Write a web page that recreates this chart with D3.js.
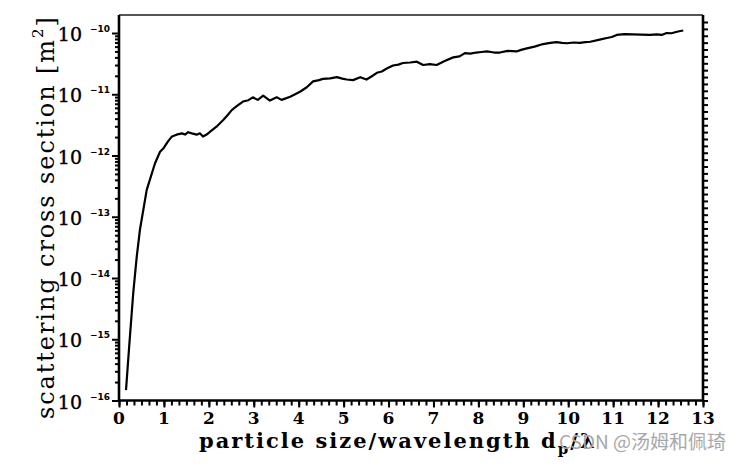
<!DOCTYPE html>
<html><head><meta charset="utf-8">
<script src="https://cdn.jsdelivr.net/npm/d3@7"></script>
<style>body{margin:0;background:#fff}svg{display:block}</style>
</head><body>
<svg id="c" width="744" height="466"></svg>
<script>
// Data
const sizeRatio = [0.156,0.229,0.318,0.394,0.467,0.617,0.80,0.913,0.986,1.09,1.18,1.28,1.40,1.47,1.54,1.62,1.73,1.80,1.87,1.95,2.03,2.17,2.32,2.42,2.51,2.62,2.76,2.88,2.98,3.09,3.21,3.36,3.51,3.62,3.81,4.03,4.18,4.32,4.45,4.54,4.70,4.85,4.97,5.07,5.21,5.37,5.51,5.62,5.74,5.85,5.96,6.10,6.22,6.32,6.48,6.63,6.77,6.92,7.07,7.25,7.44,7.58,7.70,7.82,7.95,8.07,8.19,8.35,8.48,8.65,8.85,8.95,9.08,9.25,9.44,9.60,9.74,9.86,9.97,10.12,10.26,10.38,10.49,10.70,10.86,10.97,11.08,11.25,11.44,11.62,11.82,11.97,12.08,12.19,12.30,12.42,12.50,12.56];
const crossSection = [1.48e-16,8.1e-16,5.8e-15,2.2e-14,6.2e-14,2.75e-13,7.4e-13,1.15e-12,1.3e-12,1.7e-12,2.05e-12,2.19e-12,2.3e-12,2.2e-12,2.4e-12,2.3e-12,2.19e-12,2.3e-12,2.04e-12,2.2e-12,2.45e-12,2.95e-12,3.8e-12,4.6e-12,5.5e-12,6.4e-12,7.6e-12,8.0e-12,8.9e-12,8.1e-12,9.5e-12,7.9e-12,8.9e-12,8.1e-12,9.1e-12,1.1e-11,1.3e-11,1.62e-11,1.7e-11,1.78e-11,1.82e-11,1.9e-11,1.8e-11,1.74e-11,1.7e-11,1.9e-11,1.74e-11,1.95e-11,2.24e-11,2.35e-11,2.63e-11,2.95e-11,3.05e-11,3.24e-11,3.3e-11,3.4e-11,3.0e-11,3.1e-11,3.0e-11,3.5e-11,4.0e-11,4.15e-11,4.7e-11,4.6e-11,4.8e-11,4.9e-11,5.0e-11,4.8e-11,4.8e-11,5.1e-11,5.0e-11,5.3e-11,5.6e-11,6.0e-11,6.6e-11,6.9e-11,7.1e-11,6.9e-11,6.8e-11,7.0e-11,6.9e-11,7.1e-11,7.2e-11,7.8e-11,8.3e-11,8.6e-11,9.3e-11,9.6e-11,9.5e-11,9.4e-11,9.3e-11,9.5e-11,9.3e-11,1.0e-10,9.9e-11,1.05e-10,1.08e-10,1.1e-10];
const xTickLabels = ["0","1","2","3","4","5","6","7","8","9","10","11","12","13"];
const yExponents = [-16,-15,-14,-13,-12,-11,-10];
const xTitle = "particle size/wavelength d";
const yTitle = "scattering cross section [m";
const watermark = "CSDN @汤姆和佩琦";

const svg = d3.select("#c");
const L = 119, R = 703, T = 15, B = 400.5;
const x = d3.scaleLinear().domain([0, 13]).range([L, R]);
const y = d3.scaleLog().domain([1e-16, Math.pow(10, -9.706)]).range([B, T]);

// minor ticks
const yMinor = [];
for (let e = -16; e < -10; e++) for (let m = 2; m <= 9; m++) yMinor.push(m * Math.pow(10, e));
const xMinor = d3.range(0, 13 * 6 + 1).map(i => i / 6);

const axisStyle = g => { g.selectAll("path").remove(); g.selectAll("line").attr("stroke", "#000").attr("stroke-width", 2); };

// left axis
svg.append("g").attr("transform", `translate(${L},0)`)
  .call(d3.axisLeft(y).tickValues(yMinor).tickSize(4).tickFormat(""))
  .call(axisStyle);
svg.append("g").attr("transform", `translate(${L},0)`)
  .call(d3.axisLeft(y).tickValues(yExponents.map(e => Math.pow(10, e))).tickSize(7).tickFormat(""))
  .call(axisStyle);
// bottom axis
svg.append("g").attr("transform", `translate(0,${B})`)
  .call(d3.axisBottom(x).tickValues(xMinor).tickSize(5).tickFormat(""))
  .call(axisStyle);
svg.append("g").attr("transform", `translate(0,${B})`)
  .call(d3.axisBottom(x).tickValues(d3.range(0, 14)).tickSize(7).tickFormat(""))
  .call(axisStyle);
// right axis (evenly spaced ticks)
const yr = d3.scaleLinear().domain([0, 55]).range([B, T + 7]);
svg.append("g").attr("transform", `translate(${R},0)`)
  .call(d3.axisRight(yr).tickValues(d3.range(0, 56)).tickSize(5).tickFormat(""))
  .call(axisStyle);

// frame
svg.append("line").attr("x1", L).attr("x2", R).attr("y1", T).attr("y2", T).attr("stroke", "#555").attr("stroke-width", 2.2);
svg.append("line").attr("x1", L).attr("x2", L).attr("y1", T).attr("y2", B + 1).attr("stroke", "#000").attr("stroke-width", 2.6);
svg.append("line").attr("x1", R).attr("x2", R).attr("y1", T).attr("y2", B + 1).attr("stroke", "#000").attr("stroke-width", 2.6);
svg.append("line").attr("x1", L - 1).attr("x2", R + 1).attr("y1", B).attr("y2", B).attr("stroke", "#000").attr("stroke-width", 2.6);

// y tick labels
const yl = svg.append("g");
yExponents.forEach(e => {
  const yy = y(Math.pow(10, e));
  yl.append("text").attr("x", 82).attr("y", yy + 8).attr("text-anchor", "end")
    .attr("font-family", "DejaVu Serif").attr("font-size", 19).attr("stroke", "#000").attr("stroke-width", 0.4).text("10");
  yl.append("text").attr("x", 90).attr("y", yy - 1).attr("text-anchor", "start")
    .attr("font-family", "DejaVu Sans").attr("font-weight", "bold").attr("font-size", 8.5)
    .attr("textLength", 20).attr("lengthAdjust", "spacingAndGlyphs").text("\u2212" + Math.abs(e));
});
// x tick labels
svg.append("g").selectAll("text").data(xTickLabels).join("text")
  .attr("x", (d, i) => x(i)).attr("y", 424).attr("text-anchor", "middle")
  .attr("font-family", "DejaVu Serif").attr("font-weight", "bold").attr("font-size", 17).text(d => d);

// titles
const xt = svg.append("text").attr("x", 199).attr("y", 448)
  .attr("font-family", "DejaVu Serif").attr("font-weight", "bold").attr("font-size", 21).attr("letter-spacing", 2);
xt.append("tspan").text(xTitle);
xt.append("tspan").attr("dy", 6).attr("font-size", 15).text("p");
xt.append("tspan").attr("dy", -6).text("/\u03bb");

const yt = svg.append("text").attr("transform", "translate(54,419) rotate(-90)")
  .attr("font-family", "DejaVu Serif").attr("font-size", 24).attr("letter-spacing", 1.9);
yt.append("tspan").text(yTitle);
yt.append("tspan").attr("dy", -11).attr("font-size", 15).text("2");
yt.append("tspan").attr("dy", 11).text("]");

// curve
const line = d3.line().x((d, i) => x(sizeRatio[i])).y(d => y(d));
svg.append("path").datum(crossSection).attr("d", line)
  .attr("fill", "none").attr("stroke", "#000").attr("stroke-width", 2.2).attr("stroke-linejoin", "round");

// watermark
svg.append("text").attr("x", 559).attr("y", 449).attr("font-family", "Noto Sans CJK SC, Noto Sans")
  .attr("font-size", 19).attr("fill", "#a8a8a8").text(watermark);
</script>
</body></html>
